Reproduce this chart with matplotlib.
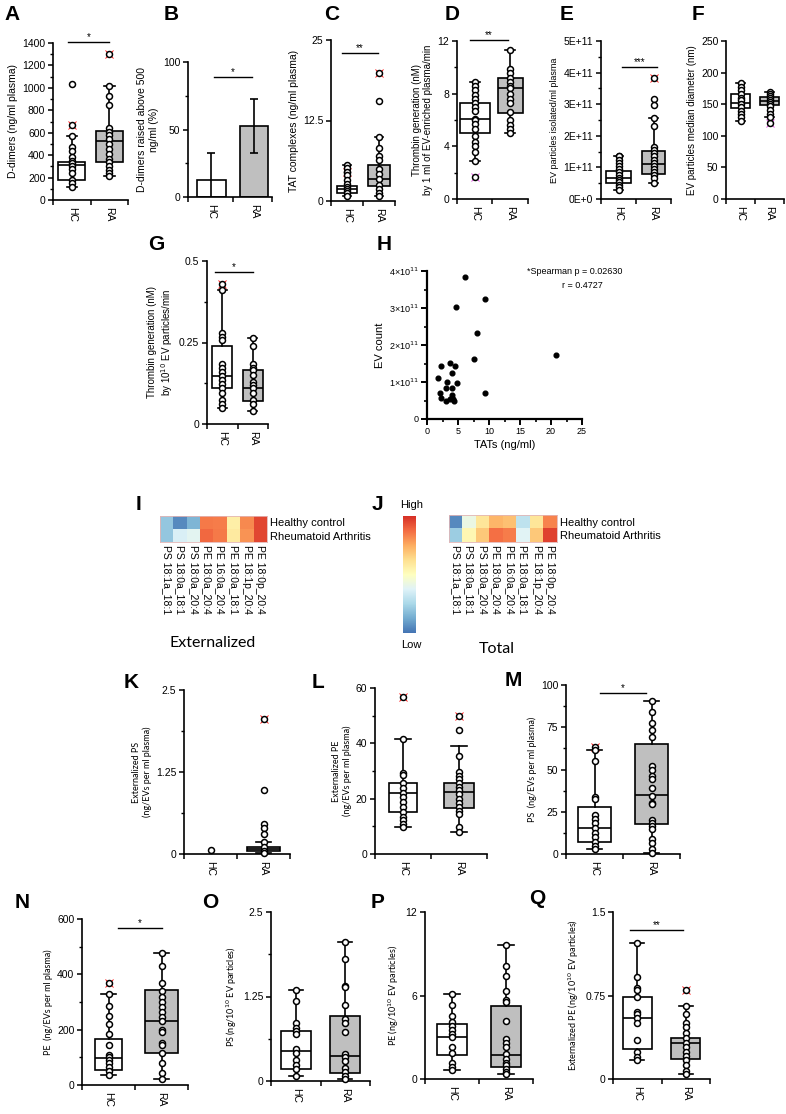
import numpy as np
import matplotlib
matplotlib.use("Agg")
import matplotlib.pyplot as plt
from matplotlib.colors import ListedColormap

plt.rcParams['font.family'] = ['Liberation Sans', 'DejaVu Sans']
plt.rcParams['axes.linewidth'] = 1.2

W, H = 786, 1114
CATS = ['HC', 'RA']
GREY = '#bfbfbf'
HEAT = ListedColormap(plt.get_cmap('RdYlBu_r')(np.linspace(0.1, 0.9, 256)))

# ---- data (box = [low whisker, q1, median, q3, high whisker]) ----
A_HC_BOX = [120, 175, 315, 340, 570]
A_HC_PTS = [1035, 570, 470, 440, 385, 350, 330, 305, 280, 245, 175, 150, 120]
A_HC_OUT = [665]
A_RA_BOX = [215, 335, 530, 615, 1020]
A_RA_PTS = [1020, 930, 845, 640, 610, 580, 540, 500, 455, 410, 370, 335, 300, 270, 240, 215]
A_RA_OUT = [1305]

B_VALS = [12.5, 52.5]
B_ERR = [20, 20]

C_HC_BOX = [0.8, 1.3, 1.8, 2.4, 5.6]
C_HC_PTS = [5.6, 5.1, 4.5, 4.0, 3.3, 2.7, 2.2, 1.8, 1.5, 1.2, 0.8]
C_HC_OUT = [4.5]
C_RA_BOX = [0.7, 2.3, 3.4, 5.6, 10.0]
C_RA_PTS = [15.5, 10.0, 8.3, 7.0, 6.4, 5.0, 4.2, 3.4, 2.5, 1.9, 1.2, 0.7]
C_RA_OUT = [19.8]

D_HC_BOX = [2.9, 5.05, 6.05, 7.3, 8.9]
D_HC_PTS = [8.9, 8.6, 8.25, 7.9, 7.6, 7.3, 7.0, 6.7, 6.1, 6.0, 5.7, 5.3, 4.8, 4.3, 4.0, 3.6, 2.9]
D_HC_OUT = [1.7]
D_RA_BOX = [5.0, 6.55, 8.4, 9.2, 11.35]
D_RA_PTS = [11.35, 9.9, 9.6, 9.2, 8.9, 8.6, 8.4, 8.0, 7.6, 7.3, 6.6, 6.0, 5.6, 5.3, 5.0]

E_HC_BOX = [0.3e11, 0.5e11, 0.68e11, 0.9e11, 1.37e11]
E_HC_PTS = [1.37e11, 1.35e11, 1.25e11, 1.15e11, 1.05e11, 0.95e11, 0.85e11, 0.75e11, 0.65e11,
            0.6e11, 0.55e11, 0.45e11, 0.38e11, 0.3e11]
E_RA_BOX = [0.52e11, 0.8e11, 1.1e11, 1.52e11, 2.57e11]
E_RA_PTS = [3.17e11, 2.99e11, 2.57e11, 2.32e11, 1.65e11, 1.55e11, 1.45e11, 1.35e11, 1.25e11,
            1.15e11, 1.05e11, 0.95e11, 0.85e11, 0.75e11, 0.65e11, 0.52e11]
E_RA_OUT = [3.83e11]
E_TICKLABELS = ['0E+0', '1E+11', '2E+11', '3E+11', '4E+11', '5E+11']

F_HC_BOX = [124, 143.5, 151.5, 165.5, 184]
F_HC_PTS = [184, 178, 172, 166, 160, 156, 151, 146, 140, 135, 130, 124]
F_RA_BOX = [130, 149, 155, 161.5, 170]
F_RA_PTS = [170, 166, 163, 160, 157, 154, 151, 147, 141, 135, 130]
F_RA_OUT = [120]

G_HC_BOX = [0.05, 0.11, 0.148, 0.24, 0.41]
G_HC_PTS = [0.41, 0.28, 0.268, 0.258, 0.183, 0.171, 0.16, 0.148, 0.135, 0.122, 0.109, 0.094,
            0.075, 0.06, 0.05]
G_HC_OUT = [0.43]
G_RA_BOX = [0.04, 0.07, 0.111, 0.166, 0.265]
G_RA_PTS = [0.265, 0.24, 0.183, 0.171, 0.166, 0.15, 0.13, 0.12, 0.111, 0.094, 0.075, 0.06, 0.04]

H_TAT = [6.1, 9.4, 4.7, 8.0, 7.6, 20.8, 1.7, 2.3, 3.7, 4.5, 4.0, 3.2, 4.9, 3.1, 4.1, 2.1, 9.4,
         2.2, 4.0, 4.2, 3.7, 3.0, 4.4]
H_EV = [3.83e11, 3.23e11, 3.02e11, 2.32e11, 1.62e11, 1.72e11, 1.12e11, 1.43e11, 1.52e11,
        1.43e11, 1.23e11, 1.01e11, 0.98e11, 0.85e11, 0.85e11, 0.71e11, 0.69e11, 0.58e11,
        0.64e11, 0.55e11, 0.55e11, 0.5e11, 0.5e11]
H_YTICKLABELS = ['0', '1×10$^{11}$', '2×10$^{11}$', '3×10$^{11}$', '4×10$^{11}$']

LIPIDS = ['PS 18:1a_18:1', 'PS 18:0a_18:1', 'PS 18:0a_20:4', 'PE 18:0a_20:4',
          'PE 16:0a_20:4', 'PE 18:0a_18:1', 'PE 18:1p_20:4', 'PE 18:0p_20:4']
GROUPS = ['Healthy control', 'Rheumatoid Arthritis']
I_HC = [0.20, 0.05, 0.15, 0.85, 0.84, 0.56, 0.82, 0.95]
I_RA = [0.20, 0.36, 0.39, 0.88, 0.85, 0.58, 0.80, 0.95]
J_HC = [0.05, 0.42, 0.60, 0.73, 0.70, 0.30, 0.60, 0.83]
J_RA = [0.22, 0.53, 0.68, 0.87, 0.84, 0.38, 0.68, 0.96]

K_HC_PTS = [0.06]
K_RA_BOX = [0.02, 0.05, 0.08, 0.11, 0.18]
K_RA_PTS = [0.97, 0.45, 0.39, 0.31, 0.18, 0.1, 0.05, 0.02]
K_RA_OUT = [2.06]

L_HC_BOX = [9.7, 15.2, 22.0, 25.6, 41.5]
L_HC_PTS = [41.5, 29.3, 28.5, 25.6, 23.8, 22.0, 20.5, 18.9, 17.0, 15.2, 13.4, 12.3, 10.8, 9.7]
L_HC_OUT = [56.7]
L_RA_BOX = [8.0, 16.6, 22.4, 25.6, 39.0]
L_RA_PTS = [45.0, 35.4, 29.6, 28.3, 27.0, 25.6, 24.3, 23.0, 21.6, 20.0, 18.6, 17.0, 15.5,
            14.4, 9.7, 8.0]
L_RA_OUT = [50.0]

M_HC_BOX = [3.0, 7.2, 15.2, 28.0, 61.5]
M_HC_PTS = [61.5, 55.0, 33.6, 32.6, 23.0, 20.7, 18.3, 15.2, 12.4, 10.0, 7.2, 4.7, 3.0]
M_HC_OUT = [63.4]
M_RA_BOX = [0.5, 17.7, 34.9, 65.0, 90.5]
M_RA_PTS = [90.5, 84.0, 77.5, 73.5, 69.5, 51.8, 49.7, 46.2, 44.4, 39.0, 34.3, 30.4, 29.5,
            20.1, 18.5, 16.6, 14.6, 8.7, 6.6, 3.0, 0.5]

N_HC_BOX = [35, 55, 97, 167, 328]
N_HC_PTS = [328, 285, 250, 220, 185, 146, 110, 100, 90, 80, 65, 50, 35]
N_HC_OUT = [368]
N_RA_BOX = [20, 115, 231, 345, 477]
N_RA_PTS = [477, 430, 370, 341, 319, 301, 283, 265, 247, 231, 200, 190, 151, 145, 115, 78, 45, 20]

O_HC_BOX = [0.08, 0.178, 0.445, 0.746, 1.35]
O_HC_PTS = [1.35, 1.18, 0.855, 0.79, 0.746, 0.70, 0.47, 0.42, 0.31, 0.24, 0.178, 0.08]
O_RA_BOX = [0.025, 0.12, 0.37, 0.96, 2.06]
O_RA_PTS = [2.06, 1.81, 1.41, 1.39, 1.12, 0.91, 0.86, 0.72, 0.40, 0.36, 0.30, 0.19, 0.13,
            0.07, 0.025]

P_HC_BOX = [0.65, 1.73, 3.02, 3.98, 6.1]
P_HC_PTS = [6.1, 5.3, 4.54, 4.08, 3.84, 3.53, 3.22, 3.02, 2.33, 1.9, 1.13, 0.89, 0.65]
P_RA_BOX = [0.34, 0.84, 1.73, 5.23, 9.6]
P_RA_PTS = [9.6, 8.09, 7.37, 6.29, 5.69, 5.52, 4.18, 2.88, 2.62, 2.33, 1.78, 1.42, 1.18, 1.0,
            0.72, 0.53, 0.34]

Q_HC_BOX = [0.17, 0.27, 0.546, 0.741, 1.22]
Q_HC_PTS = [1.22, 0.912, 0.816, 0.795, 0.741, 0.6, 0.58, 0.546, 0.5, 0.35, 0.246, 0.2, 0.17]
Q_RA_BOX = [0.042, 0.18, 0.32, 0.372, 0.66]
Q_RA_PTS = [0.66, 0.58, 0.507, 0.47, 0.41, 0.372, 0.32, 0.285, 0.246, 0.207, 0.17, 0.126,
            0.075, 0.042]
Q_RA_OUT = [0.80]

fig = plt.figure(figsize=(W / 100, H / 100), dpi=100)


def px_axes(l, r, t, b):
    return fig.add_axes([l / W, 1 - b / H, (r - l) / W, (b - t) / H])


def letter(x, y, s):
    fig.text(x / W, 1 - y / H, s, fontsize=15, fontweight='bold', ha='left', va='center')


def style_axes(ax, ylim, yticks, yminor=None, yticklabels=None, ylabel='', ylsize=7.5,
               ylfont=None, xlim=(-0.5, 1.5)):
    for s in ['top', 'right']:
        ax.spines[s].set_visible(False)
    ax.set_xlim(*xlim)
    ax.set_ylim(*ylim)
    ax.set_yticks(yticks)
    if yticklabels is not None:
        ax.set_yticklabels(yticklabels)
    if yminor is not None:
        ax.set_yticks(yminor, minor=True)
    ax.tick_params(axis='y', which='major', direction='out', length=3.5, width=1.1,
                   labelsize=7.5, pad=2)
    ax.tick_params(axis='y', which='minor', direction='out', length=2.2, width=1)
    ax.set_xticks([0, 1])
    ax.set_xticklabels(CATS, rotation=270, fontsize=7.5)
    ax.set_xticks([xlim[0], 0.5, xlim[1]], minor=True)
    ax.tick_params(axis='x', which='major', length=0, pad=5)
    ax.tick_params(axis='x', which='minor', direction='out', length=3.5, width=1.1)
    kw = dict(fontsize=ylsize, labelpad=3)
    if ylfont:
        kw['family'] = ylfont
    ax.set_ylabel(ylabel, **kw)


def group(ax, pos, box, pts, out, fill, width, outcol='red'):
    if box is not None:
        lo, q1, med, q3, hi = box
        st = [dict(whislo=lo, q1=q1, med=med, q3=q3, whishi=hi, fliers=[])]
        ax.bxp(st, positions=[pos], widths=width, capwidths=0.28, patch_artist=True,
               showfliers=False, manage_ticks=False,
               boxprops=dict(facecolor=fill, edgecolor='black', lw=1.2),
               medianprops=dict(color='black', lw=1.2),
               whiskerprops=dict(color='black', lw=1.2),
               capprops=dict(color='black', lw=1.2))
    if out:
        ax.plot([pos] * len(out), out, 'x', color=outcol, ms=5.2, mew=0.6, zorder=4, clip_on=False)
        ax.plot([pos] * len(out), out, 'o', mfc='white', mec='black', ms=4.3, mew=1.1, zorder=5,
                clip_on=False)
    ax.plot([pos] * len(pts), pts, 'o', mfc='white', mec='black', ms=4.3, mew=1.1, zorder=5,
            clip_on=False)


def sig(ax, x0, x1, y, txt):
    ax.plot([x0, x1], [y, y], color='black', lw=1, clip_on=False)
    ax.text((x0 + x1) / 2, y, txt, ha='center', va='bottom', fontsize=7)


# ---- A ----
ax = px_axes(53, 128, 43, 200)
group(ax, 0, A_HC_BOX, A_HC_PTS, A_HC_OUT, 'white', 0.72)
group(ax, 1, A_RA_BOX, A_RA_PTS, A_RA_OUT, GREY, 0.72)
style_axes(ax, (0, 1400), np.arange(0, 1401, 200), np.arange(100, 1400, 200),
           ylabel='D-dimers (ng/ml plasma)')
sig(ax, -0.1, 1.0, 1405, '*')
letter(4, 15, 'A')

# ---- B ----
ax = px_axes(188, 272, 62, 197)
ax.bar([0, 1], B_VALS, width=0.68, color=['white', GREY], edgecolor='black', lw=1.2)
ax.errorbar([0, 1], B_VALS, yerr=B_ERR, fmt='none', ecolor='black', elinewidth=1.2,
            capsize=3, capthick=1.2)
style_axes(ax, (0, 100), [0, 50, 100], [25, 75],
           ylabel='D-dimers raised above 500\nng/ml (%)', xlim=(-0.553, 1.424))
sig(ax, 0.05, 0.95, 89, '*')
letter(164, 15, 'B')

# ---- C ----
ax = px_axes(331, 395, 40, 201)
group(ax, 0, C_HC_BOX, C_HC_PTS, C_HC_OUT, 'white', 0.62)
group(ax, 1, C_RA_BOX, C_RA_PTS, C_RA_OUT, GREY, 0.68)
style_axes(ax, (0, 25), [0, 12.5, 25], yticklabels=['0', '12.5', '25'],
           ylabel='TAT complexes (ng/ml plasma)')
sig(ax, -0.15, 0.97, 23, '**')
letter(324, 15, 'C')

# ---- D ----
ax = px_axes(457, 528, 41, 199)
group(ax, 0, D_HC_BOX, D_HC_PTS, D_HC_OUT, 'white', 0.85, outcol='#e040e0')
group(ax, 1, D_RA_BOX, D_RA_PTS, [], GREY, 0.7)
style_axes(ax, (0, 12), [0, 4, 8, 12], [2, 6, 10],
           ylabel='Thrombin generation (nM)\nby 1 ml of EV-enriched plasma/min', ylsize=7)
sig(ax, -0.14, 0.94, 12.05, '**')
letter(445, 15, 'D')

# ---- E ----
ax = px_axes(601, 671, 41, 199)
group(ax, 0, E_HC_BOX, E_HC_PTS, [], 'white', 0.7)
group(ax, 1, E_RA_BOX, E_RA_PTS, E_RA_OUT, GREY, 0.66)
style_axes(ax, (0, 5e11), np.arange(0, 5.01e11, 1e11), np.arange(0.5e11, 5e11, 1e11),
           yticklabels=E_TICKLABELS, ylabel='EV particles isolated/ml plasma', ylsize=6.5)
sig(ax, 0.1, 1.1, 4.18e11, '***')
letter(560, 15, 'E')

# ---- F ----
ax = px_axes(726, 784, 41, 199)
group(ax, 0, F_HC_BOX, F_HC_PTS, [], 'white', 0.66)
group(ax, 1, F_RA_BOX, F_RA_PTS, F_RA_OUT, GREY, 0.63, outcol='#e040e0')
style_axes(ax, (0, 250), np.arange(0, 251, 50), ylabel='EV particles median diameter (nm)',
           ylsize=7)
letter(692, 15, 'F')

# ---- G ----
ax = px_axes(207, 268, 261, 424)
group(ax, 0, G_HC_BOX, G_HC_PTS, G_HC_OUT, 'white', 0.65)
group(ax, 1, G_RA_BOX, G_RA_PTS, [], GREY, 0.65)
style_axes(ax, (0, 0.5), [0, 0.25, 0.5], [0.125, 0.375], yticklabels=['0', '0.25', '0.5'],
           ylabel='Thrombin generation (nM)\nby 10$^{10}$ EV particles/min', ylsize=7)
sig(ax, -0.25, 1.0, 0.467, '*')
letter(148, 245, 'G')

# ---- H ----
ax = px_axes(427, 582, 271, 419)
ax.plot(H_TAT, H_EV, 'o', color='black', ms=3.4, clip_on=False)
for s in ['top', 'right']:
    ax.spines[s].set_visible(False)
ax.spines['left'].set_linewidth(1.6)
ax.spines['bottom'].set_linewidth(1.6)
ax.set_xlim(0, 25)
ax.set_ylim(0, 4e11)
ax.set_xticks(np.arange(0, 26, 5))
ax.set_xticks(np.arange(2.5, 25, 5), minor=True)
ax.set_yticks(np.arange(0, 4.01e11, 1e11))
ax.set_yticklabels(H_YTICKLABELS)
ax.set_yticks(np.arange(0.5e11, 4e11, 1e11), minor=True)
ax.tick_params(which='major', direction='out', length=4, width=1.4, labelsize=6.5, pad=2)
ax.tick_params(which='minor', direction='out', length=2.5, width=1.2)
ax.set_xlabel('TATs (ng/ml)', fontsize=8, labelpad=3)
ax.set_ylabel('EV count', fontsize=8, labelpad=3)
fig.text(527 / W, 1 - 272 / H, '*Spearman p = 0.02630', fontsize=6.5, ha='left', va='center')
fig.text(562 / W, 1 - 285 / H, 'r = 0.4727', fontsize=6.5, ha='left', va='center')
letter(377, 245, 'H')

# ---- I / J heatmaps ----
for (l, r, t, b), hc, ra in [((160, 267, 516, 542), I_HC, I_RA), ((449, 557, 515, 542), J_HC, J_RA)]:
    ax = px_axes(l, r, t, b)
    ax.imshow(np.array([hc, ra]), cmap=HEAT, vmin=0, vmax=1, aspect='auto')
    ax.set_xticks(range(len(LIPIDS)))
    ax.set_xticklabels(LIPIDS, rotation=270, fontsize=7.5)
    ax.set_yticks([0, 1])
    ax.set_yticklabels(GROUPS, fontsize=8)
    ax.yaxis.tick_right()
    ax.tick_params(length=0, pad=2)
    for s in ax.spines.values():
        s.set_edgecolor('#e3b5b5')
        s.set_linewidth(0.6)

axc = px_axes(403, 416, 516, 633)
axc.imshow(np.linspace(1, 0, 256)[:, None], cmap=HEAT, aspect='auto')
axc.axis('off')
fig.text(412 / W, 1 - 505 / H, 'High', fontsize=8, ha='center', va='center')
fig.text(411 / W, 1 - 645 / H, 'Low', fontsize=8, ha='center', va='center')
fig.text(213 / W, 1 - 643 / H, 'Externalized', fontsize=11.5, family='Lato', ha='center', va='center')
fig.text(497 / W, 1 - 649 / H, 'Total', fontsize=11.5, family='Lato', ha='center', va='center')
letter(136, 505, 'I')
letter(372, 505, 'J')

# ---- K ----
ax = px_axes(184, 290, 690, 854)
group(ax, 0, None, K_HC_PTS, [], 'white', 0.6)
group(ax, 1, K_RA_BOX, K_RA_PTS, K_RA_OUT, GREY, 0.63)
style_axes(ax, (0, 2.5), [0, 1.25, 2.5], [0.625, 1.875], yticklabels=['0', '1.25', '2.5'],
           ylabel='Externalized PS\n(ng/EVs per ml plasma)', ylsize=6.5, ylfont='Lato')
letter(124, 682, 'K')

# ---- L ----
ax = px_axes(375, 487, 688, 854)
group(ax, 0, L_HC_BOX, L_HC_PTS, L_HC_OUT, 'white', 0.5)
group(ax, 1, L_RA_BOX, L_RA_PTS, L_RA_OUT, GREY, 0.55)
style_axes(ax, (0, 60), [0, 20, 40, 60], [10, 30, 50],
           ylabel='Externalized PE\n(ng/EVs per ml plasma)', ylsize=6.5, ylfont='Lato')
letter(312, 682, 'L')

# ---- M ----
ax = px_axes(566, 680, 685, 854)
group(ax, 0, M_HC_BOX, M_HC_PTS, M_HC_OUT, 'white', 0.58)
group(ax, 1, M_RA_BOX, M_RA_PTS, [], GREY, 0.58)
style_axes(ax, (0, 100), np.arange(0, 101, 25), np.arange(12.5, 100, 25),
           ylabel='PS  (ng/EVs per ml plasma)', ylsize=6.5, ylfont='Lato')
sig(ax, 0.09, 0.9, 95, '*')
letter(505, 680, 'M')

# ---- N ----
ax = px_axes(82, 188, 919, 1085)
group(ax, 0, N_HC_BOX, N_HC_PTS, N_HC_OUT, 'white', 0.5)
group(ax, 1, N_RA_BOX, N_RA_PTS, [], GREY, 0.64)
style_axes(ax, (0, 600), [0, 200, 400, 600], [100, 300, 500],
           ylabel='PE  (ng/EVs per ml plasma)', ylsize=6.5, ylfont='Lato')
sig(ax, 0.17, 1.0, 567, '*')
letter(15, 902, 'N')

# ---- O ----
ax = px_axes(271, 370, 912, 1081)
group(ax, 0, O_HC_BOX, O_HC_PTS, [], 'white', 0.6)
group(ax, 1, O_RA_BOX, O_RA_PTS, [], GREY, 0.6)
style_axes(ax, (0, 2.5), [0, 1.25, 2.5], [0.625, 1.875], yticklabels=['0', '1.25', '2.5'],
           ylabel='PS (ng/10$^{10}$ EV particles)', ylsize=6.5, ylfont='Lato')
letter(202, 902, 'O')

# ---- P ----
ax = px_axes(425, 533, 912, 1079)
group(ax, 0, P_HC_BOX, P_HC_PTS, [], 'white', 0.55)
group(ax, 1, P_RA_BOX, P_RA_PTS, [], GREY, 0.55)
style_axes(ax, (0, 12), [0, 6, 12], ylabel='PE (ng/10$^{10}$ EV particles)', ylsize=6.5,
           ylfont='Lato')
letter(371, 902, 'P')

# ---- Q ----
ax = px_axes(613, 710, 912, 1079)
group(ax, 0, Q_HC_BOX, Q_HC_PTS, [], 'white', 0.6)
group(ax, 1, Q_RA_BOX, Q_RA_PTS, Q_RA_OUT, GREY, 0.6)
style_axes(ax, (0, 1.5), [0, 0.75, 1.5], yticklabels=['0', '0.75', '1.5'],
           ylabel='Externalized PE (ng/10$^{10}$ EV particles)', ylsize=6.5, ylfont='Lato')
sig(ax, -0.15, 0.95, 1.335, '**')
letter(529, 898, 'Q')

fig.savefig('out.png', dpi=100)
